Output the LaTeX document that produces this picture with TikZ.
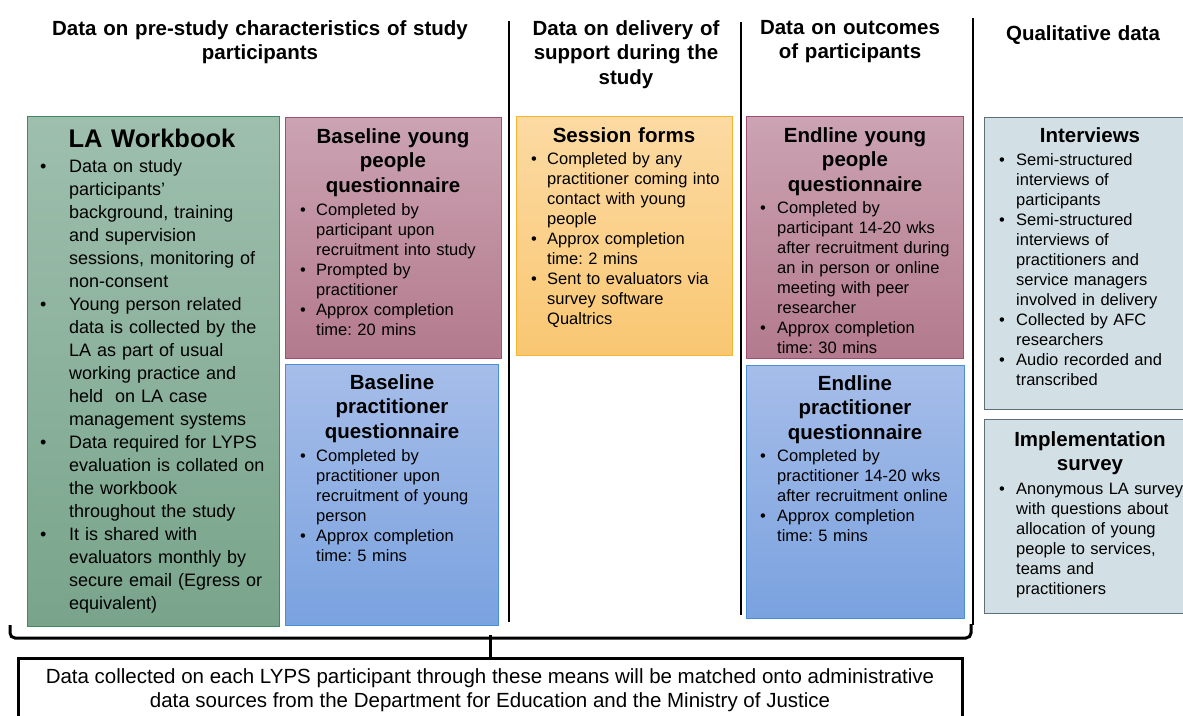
\documentclass[tikz,border=0pt]{standalone}
\usepackage{fontspec}
\setmainfont{Liberation Sans}
\frenchspacing

\definecolor{wbkTop}{HTML}{9EBFAE}
\definecolor{wbkBot}{HTML}{79A48B}
\definecolor{wbkEdge}{HTML}{3F8A63}
\definecolor{ypqTop}{HTML}{CBA3B2}
\definecolor{ypqBot}{HTML}{B37A8D}
\definecolor{ypqEdge}{HTML}{A24D73}
\definecolor{prqTop}{HTML}{A6BDE9}
\definecolor{prqBot}{HTML}{7AA2DF}
\definecolor{prqEdge}{HTML}{4A90D9}
\definecolor{sesTop}{HTML}{FCDAA3}
\definecolor{sesBot}{HTML}{F9C772}
\definecolor{sesEdge}{HTML}{F5B52E}
\definecolor{qalFill}{HTML}{D2E0E6}
\definecolor{qalEdge}{HTML}{5C6E78}

\newlength\bhang
\newcommand{\bitem}[1]{\hangindent=\bhang\hangafter=1\noindent\makebox[\bhang][l]{\textbullet}#1\par}

\begin{document}
\begin{tikzpicture}[
		x=1pt, y=-1pt,
		card/.style={rectangle, anchor=north west, inner sep=0pt, line width=1.2pt},
		grn/.style={draw=wbkEdge, top color=wbkTop, bottom color=wbkBot},
		pnk/.style={draw=ypqEdge, top color=ypqTop, bottom color=ypqBot},
		blu/.style={draw=prqEdge, top color=prqTop, bottom color=prqBot},
		org/.style={draw=sesEdge, top color=sesTop, bottom color=sesBot},
		gry/.style={draw=qalEdge, fill=qalFill},
		hdr/.style={anchor=base, inner sep=0pt, align=center, text width=440pt,
			font=\fontsize{20.5}{24.5}\selectfont\bfseries},
		ttl/.style={hdr, text width=210pt},
		lst/.style={anchor=base west, inner sep=0pt, text width=260pt, align=left,
			font=\fontsize{16.5}{20}\selectfont, execute at begin node={\setlength\bhang{#1}}},
		lst/.default=16pt,
		sep/.style={line width=2.5pt},
		brc/.style={line width=3pt, rounded corners=5pt},
		adm/.style={draw, line width=3pt, minimum width=944pt, minimum height=64pt, align=center,
			font=\fontsize{20.5}{24}\selectfont}
	]
  \useasboundingbox (0,0) rectangle (1183,715);

  % column headings
  \node[hdr] (h_pre) at (260,35) {Data on pre-study characteristics of study\\participants};
  \node[hdr] (h_del) at (626,35) {Data on delivery of\\support during the\\study};
  \node[hdr] (h_out) at (850,34) {Data on outcomes\\of participants};
  \node[hdr] (h_qal) at (1083,40) {Qualitative data};

  \draw[sep] (509,21) -- (509,622);
  \draw[sep] (741,22) -- (741,615);
  \draw[sep] (973,18) -- (973,625);

  % pre-study
  \node[card, grn, minimum width=252pt, minimum height=510pt] (wbk) at (27,116) {};
  \node[ttl, font=\fontsize{25.5}{30}\selectfont\bfseries] (wbk_t) at (152,147) {LA Workbook};
  \node[lst=29pt, font=\fontsize{18}{23}\selectfont] (wbk_l) at (40,172) {%
    \bitem{Data on study\newline participants’\newline background, training\newline and supervision\newline sessions, monitoring of\newline non-consent}
    \bitem{Young person related\newline data is collected by the\newline LA as part of usual\newline working practice and\newline held~ on LA case\newline management systems}
    \bitem{Data required for LYPS\newline evaluation is collated on\newline the workbook\newline throughout the study}
    \bitem{It is shared with\newline evaluators monthly by\newline secure email (Egress or\newline equivalent)}};

  \node[card, pnk, minimum width=216pt, minimum height=241pt] (bypq) at (285,117) {};
  \node[ttl] (bypq_t) at (393,143) {Baseline young\\people\\questionnaire};
  \node[lst] (bypq_l) at (300,215) {%
    \bitem{Completed by\newline participant upon\newline recruitment into study}
    \bitem{Prompted by\newline practitioner}
    \bitem{Approx completion\newline time: 20 mins}};

  \node[card, blu, minimum width=213pt, minimum height=261pt] (bprq) at (285,364) {};
  \node[ttl] (bprq_t) at (392,389) {Baseline\\practitioner\\questionnaire};
  \node[lst] (bprq_l) at (300,461) {%
    \bitem{Completed by\newline practitioner upon\newline recruitment of young\newline person}
    \bitem{Approx completion\newline time: 5 mins}};

  % delivery
  \node[card, org, minimum width=216pt, minimum height=239pt] (sesf) at (516,116) {};
  \node[ttl] (sesf_t) at (624,142) {Session forms};
  \node[lst] (sesf_l) at (531,164) {%
    \bitem{Completed by any\newline practitioner coming into\newline contact with young\newline people}
    \bitem{Approx completion\newline time: 2 mins}
    \bitem{Sent to evaluators via\newline survey software\newline Qualtrics}};

  % outcomes
  \node[card, pnk, minimum width=217pt, minimum height=242pt] (eypq) at (746,116) {};
  \node[ttl] (eypq_t) at (855,142) {Endline young\\people\\questionnaire};
  \node[lst=17pt] (eypq_l) at (760,213) {%
    \bitem{Completed by\newline participant 14-20 wks\newline after recruitment during\newline an in person or online\newline meeting with peer\newline researcher}
    \bitem{Approx completion\newline time: 30 mins}};

  \node[card, blu, minimum width=218pt, minimum height=253pt] (eprq) at (746,365) {};
  \node[ttl] (eprq_t) at (855,390) {Endline\\practitioner\\questionnaire};
  \node[lst=17pt] (eprq_l) at (760,461) {%
    \bitem{Completed by\newline practitioner 14-20 wks\newline after recruitment online}
    \bitem{Approx completion\newline time: 5 mins}};

  % qualitative
  \node[card, gry, minimum width=212pt, minimum height=292pt] (intv) at (984,117) {};
  \node[ttl] (intv_t) at (1090,142) {Interviews};
  \node[lst=17pt] (intv_l) at (999,165) {%
    \bitem{Semi-structured\newline interviews of\newline participants}
    \bitem{Semi-structured\newline interviews of\newline practitioners and\newline service managers\newline involved in delivery}
    \bitem{Collected by AFC\newline researchers}
    \bitem{Audio recorded and\newline transcribed}};

  \node[card, gry, minimum width=212pt, minimum height=194pt] (imps) at (984,419) {};
  \node[ttl] (imps_t) at (1090,446) {Implementation\\survey};
  \node[lst=17pt] (imps_l) at (999,494) {%
    \bitem{Anonymous LA survey\newline with questions about\newline allocation of young\newline people to services,\newline teams and\newline practitioners}};

  % bracket and linkage note
  \node[adm, anchor=north] (link) at (490,657) {Data collected on each LYPS participant through these means will be matched onto administrative\\data sources from the Department for Education and the Ministry of Justice};
  \coordinate (mid) at (490,635);
  \draw[brc] (10,625) -- (10,638) -- (971,638) -- (971,624);
  \draw[line width=3pt] (mid) -- (link.north);
\end{tikzpicture}
\end{document}
